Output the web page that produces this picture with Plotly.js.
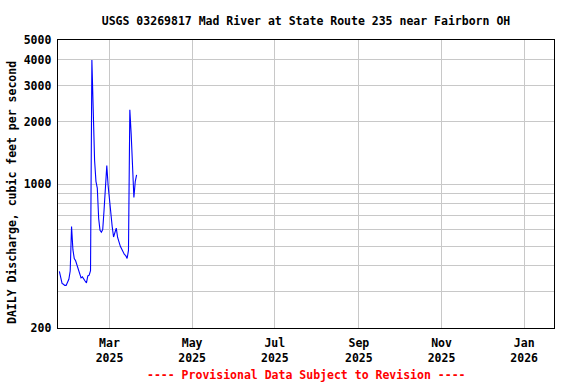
<!DOCTYPE html>
<html>
<head>
<meta charset="utf-8">
<script src="https://cdn.plot.ly/plotly-3.0.1.min.js"></script>
<style>html,body{margin:0;padding:0;background:#fff;}#chart{width:576px;height:384px;}</style>
</head>
<body>
<div id="chart"></div>
<script>
// Daily discharge, cubic feet per second, starting 2025-01-23
const startDate = '2025-01-23';
const discharge = [377, 345, 329, 326, 322, 322, 337, 345, 378, 622,
  480, 435, 424, 405, 392, 367, 350, 354, 344, 338,
  331, 358, 361, 380, 4000, 2200, 1300, 1030, 955, 680,
  596, 584, 600, 750, 950, 1228, 980, 826, 690, 620,
  553, 590, 611, 550, 520, 498, 484, 467, 455, 449,
  435, 476, 2291, 1750, 1197, 860, 1028, 1107];

const yTickVals = [200, 300, 400, 500, 600, 700, 800, 900, 1000, 2000, 3000, 4000, 5000];
const yTickText = ['200', '', '', '', '', '', '', '', '1000', '2000', '3000', '4000', '5000'];
const xTickVals = ['2025-03-01', '2025-05-01', '2025-07-01', '2025-09-01', '2025-11-01', '2026-01-01'];
const xTickText = ['Mar<br>2025', 'May<br>2025', 'Jul<br>2025', 'Sep<br>2025', 'Nov<br>2025', 'Jan<br>2026'];
const xRange = ['2025-01-22', '2026-01-23'];
const yRange = [200, 5000];

const dates = discharge.map((_, i) => {
  const d = new Date(startDate + 'T00:00:00Z');
  d.setUTCDate(d.getUTCDate() + i);
  return d.toISOString().slice(0, 10);
});

const mono = 'DejaVu Sans Mono, monospace';
const trace = {
  x: dates, y: discharge, type: 'scatter', mode: 'lines',
  line: {color: '#0000ff', width: 1.1}, hoverinfo: 'skip'
};

const layout = {
  width: 576, height: 384,
  margin: {l: 58, r: 22, t: 40, b: 56, pad: 0},
  paper_bgcolor: '#fff', plot_bgcolor: '#fff',
  showlegend: false,
  title: {
    text: 'USGS 03269817 Mad River at State Route 235 near Fairborn OH',
    font: {family: mono, size: 11.5, color: '#000', weight: 'bold'},
    x: 0.5, xref: 'paper', xanchor: 'center',
    y: 1 - 21 / 384, yref: 'container', yanchor: 'middle'
  },
  xaxis: {
    type: 'date', range: xRange,
    tickvals: xTickVals, ticktext: xTickText, ticks: '',
    ticklabelstandoff: 4,
    showgrid: true, gridcolor: '#c8c8c8', gridwidth: 1,
    showline: true, linecolor: '#000', linewidth: 1.3, mirror: true,
    zeroline: false,
    tickfont: {family: mono, size: 11.5, color: '#000', weight: 'bold'}
  },
  yaxis: {
    type: 'log', range: [Math.log10(yRange[0]), Math.log10(yRange[1])],
    tickvals: yTickVals, ticktext: yTickText, ticks: '',
    ticklabelstandoff: 3,
    showgrid: true, gridcolor: '#c8c8c8', gridwidth: 1,
    showline: true, linecolor: '#000', linewidth: 1.3, mirror: true,
    zeroline: false,
    tickfont: {family: mono, size: 11.5, color: '#000', weight: 'bold'}
  },
  annotations: [
    {
      text: 'DAILY Discharge, cubic feet per second',
      xref: 'paper', yref: 'paper', x: -0.094, y: 0.47,
      xanchor: 'center', yanchor: 'middle', textangle: -90, showarrow: false,
      font: {family: mono, size: 11.5, color: '#000', weight: 'bold'}
    },
    {
      text: '---- Provisional Data Subject to Revision ----',
      xref: 'paper', yref: 'paper', x: 0.5, y: -(375 - 328) / 288,
      xanchor: 'center', yanchor: 'middle', showarrow: false,
      font: {family: mono, size: 11.5, color: '#ff0000', weight: 'bold'}
    }
  ]
};

Plotly.newPlot('chart', [trace], layout, {staticPlot: true, displayModeBar: false});
</script>
</body>
</html>
